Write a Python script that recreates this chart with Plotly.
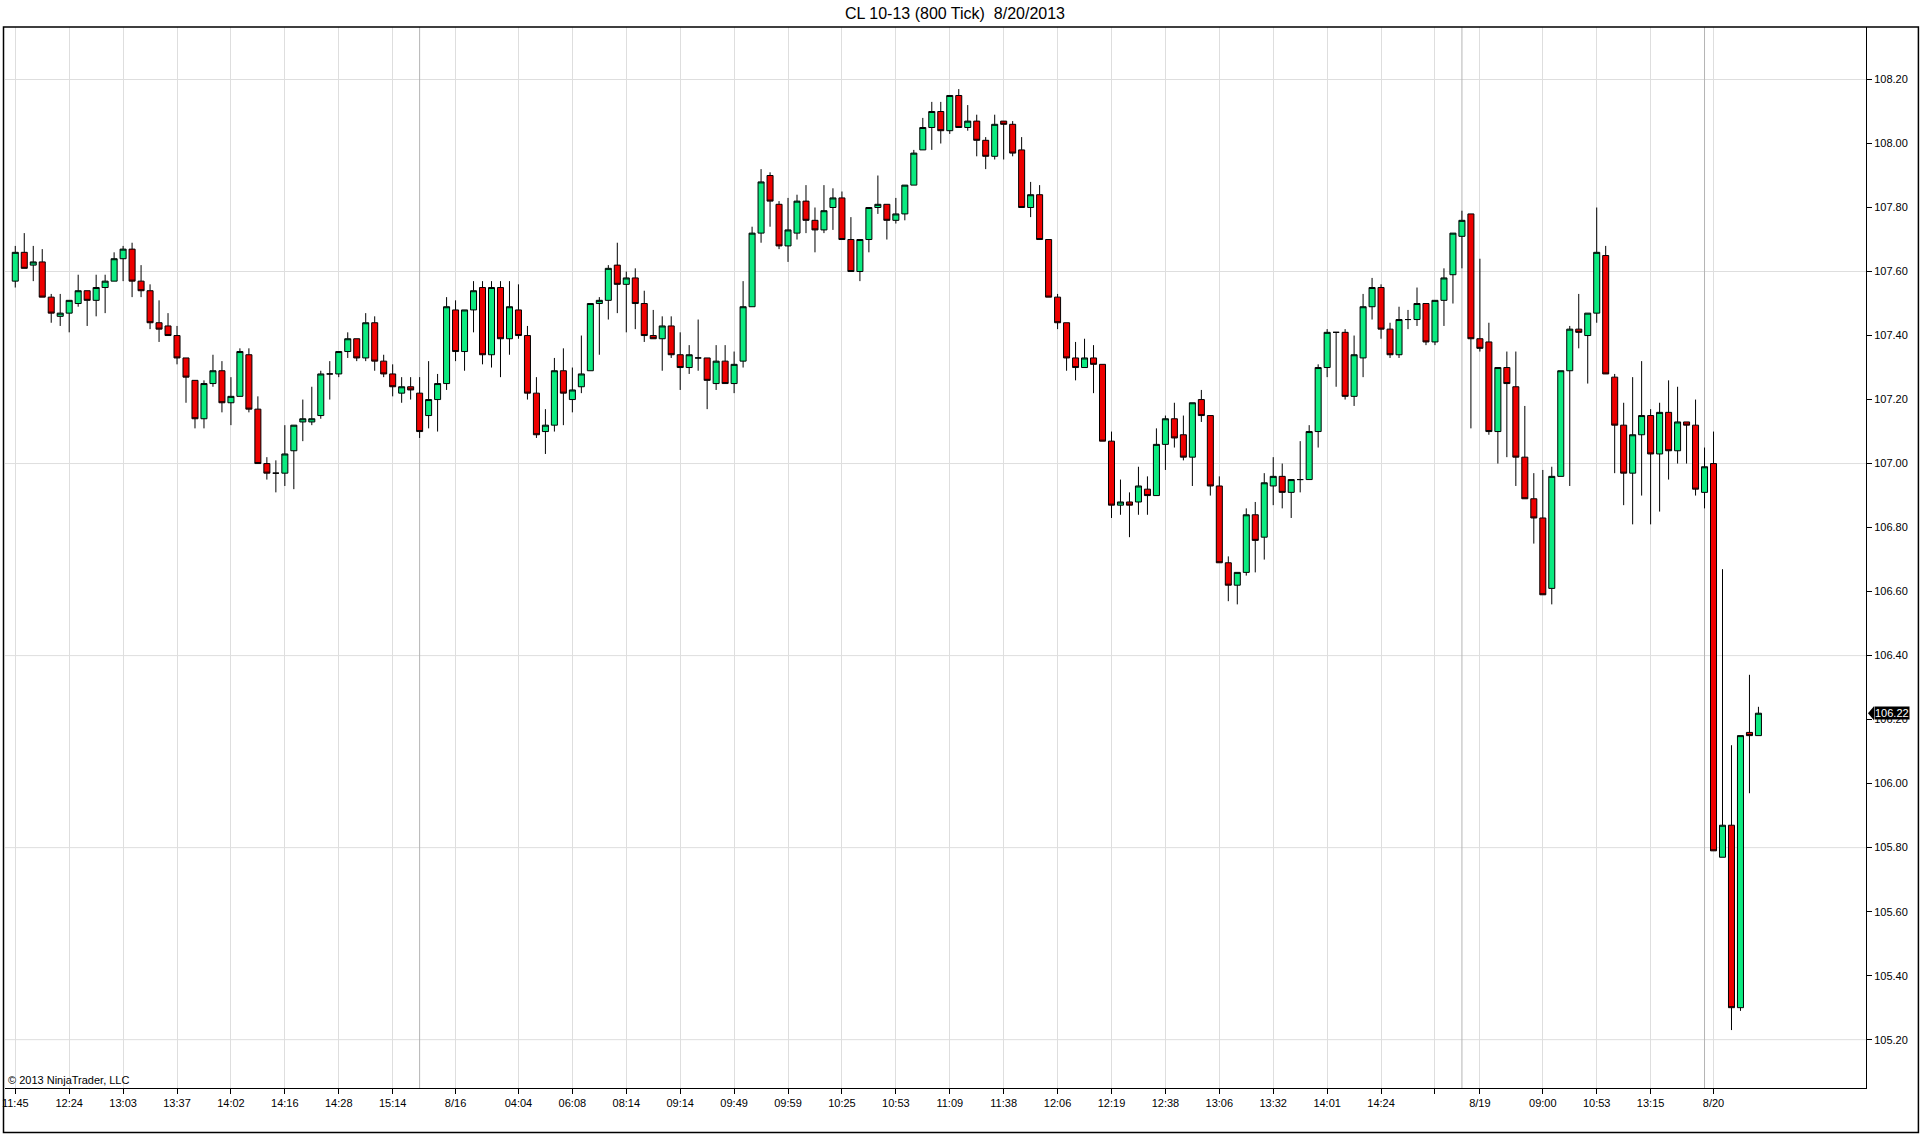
import plotly.graph_objects as go

TITLE = "CL 10-13 (800 Tick)  8/20/2013"
COPYRIGHT = "© 2013 NinjaTrader, LLC"

OPEN = [
    107.57, 107.66, 107.62, 107.63, 107.52, 107.46, 107.47, 107.50, 107.54, 107.51,
    107.55, 107.57, 107.64, 107.67, 107.57, 107.54, 107.44, 107.43, 107.40, 107.33,
    107.26, 107.14, 107.25, 107.29, 107.19, 107.21, 107.34, 107.17, 107.00, 106.97,
    106.97, 107.04, 107.13, 107.13, 107.15, 107.28, 107.28, 107.35, 107.39, 107.33,
    107.44, 107.32, 107.28, 107.22, 107.24, 107.22, 107.15, 107.20, 107.25, 107.48,
    107.35, 107.48, 107.55, 107.34, 107.55, 107.39, 107.48, 107.40, 107.22, 107.10,
    107.12, 107.29, 107.20, 107.24, 107.29, 107.50, 107.51, 107.62, 107.56, 107.58,
    107.50, 107.40, 107.39, 107.43, 107.34, 107.30, 107.33, 107.33, 107.25, 107.32,
    107.25, 107.32, 107.49, 107.72, 107.90, 107.81, 107.68, 107.72, 107.82, 107.76,
    107.73, 107.80, 107.83, 107.70, 107.60, 107.70, 107.80, 107.81, 107.76, 107.78,
    107.87, 107.98, 108.05, 108.10, 108.04, 108.15, 108.05, 108.07, 108.01, 107.96,
    108.07, 108.06, 107.98, 107.80, 107.84, 107.70, 107.52, 107.44, 107.33, 107.30,
    107.33, 107.31, 107.07, 106.87, 106.88, 106.88, 106.92, 106.90, 107.06, 107.14,
    107.09, 107.02, 107.20, 107.15, 106.93, 106.69, 106.62, 106.66, 106.84, 106.77,
    106.93, 106.96, 106.91, 106.95, 106.95, 107.10, 107.30, 107.41, 107.41, 107.21,
    107.33, 107.49, 107.55, 107.42, 107.34, 107.45, 107.45, 107.50, 107.38, 107.51,
    107.59, 107.71, 107.78, 107.39, 107.38, 107.10, 107.30, 107.24, 107.02, 106.89,
    106.83, 106.61, 106.96, 107.29, 107.42, 107.40, 107.47, 107.65, 107.27, 107.12,
    106.97, 107.09, 107.15, 107.03, 107.16, 107.04, 107.13, 107.12, 106.91, 107.00,
    105.77, 105.87, 105.30, 106.16, 106.15,
]
HIGH = [
    107.68, 107.72, 107.68, 107.67, 107.53, 107.53, 107.51, 107.59, 107.54, 107.59,
    107.59, 107.66, 107.68, 107.69, 107.62, 107.56, 107.51, 107.47, 107.43, 107.33,
    107.26, 107.26, 107.34, 107.32, 107.27, 107.36, 107.36, 107.21, 107.02, 107.01,
    107.12, 107.12, 107.20, 107.24, 107.29, 107.32, 107.35, 107.41, 107.39, 107.47,
    107.46, 107.34, 107.31, 107.27, 107.27, 107.27, 107.32, 107.28, 107.52, 107.51,
    107.48, 107.57, 107.57, 107.57, 107.57, 107.57, 107.56, 107.43, 107.27, 107.17,
    107.33, 107.36, 107.30, 107.40, 107.50, 107.52, 107.62, 107.69, 107.60, 107.61,
    107.54, 107.48, 107.46, 107.46, 107.41, 107.37, 107.45, 107.33, 107.37, 107.37,
    107.35, 107.57, 107.74, 107.92, 107.91, 107.82, 107.83, 107.84, 107.87, 107.80,
    107.87, 107.86, 107.85, 107.77, 107.70, 107.80, 107.90, 107.81, 107.83, 107.87,
    107.98, 108.08, 108.13, 108.13, 108.15, 108.17, 108.12, 108.09, 108.02, 108.09,
    108.07, 108.07, 108.02, 107.88, 107.87, 107.70, 107.53, 107.44, 107.38, 107.39,
    107.37, 107.31, 107.10, 106.95, 106.91, 106.99, 106.96, 107.11, 107.15, 107.19,
    107.15, 107.19, 107.23, 107.15, 106.96, 106.71, 106.66, 106.86, 106.88, 106.97,
    107.02, 107.00, 106.95, 107.07, 107.12, 107.31, 107.42, 107.41, 107.42, 107.40,
    107.53, 107.58, 107.56, 107.44, 107.49, 107.48, 107.55, 107.50, 107.51, 107.61,
    107.72, 107.79, 107.78, 107.64, 107.44, 107.30, 107.35, 107.35, 107.18, 106.97,
    106.98, 106.99, 107.29, 107.43, 107.53, 107.47, 107.80, 107.68, 107.28, 107.19,
    107.27, 107.32, 107.17, 107.19, 107.26, 107.24, 107.13, 107.20, 107.05, 107.10,
    106.67, 106.12, 106.15, 106.34, 106.24,
]
LOW = [
    107.55, 107.61, 107.57, 107.52, 107.44, 107.43, 107.41, 107.49, 107.43, 107.46,
    107.47, 107.57, 107.57, 107.52, 107.52, 107.42, 107.38, 107.40, 107.31, 107.19,
    107.11, 107.11, 107.24, 107.16, 107.12, 107.21, 107.16, 107.00, 106.95, 106.91,
    106.93, 106.92, 107.07, 107.12, 107.14, 107.20, 107.27, 107.33, 107.32, 107.32,
    107.29, 107.27, 107.21, 107.19, 107.20, 107.08, 107.11, 107.10, 107.23, 107.32,
    107.29, 107.41, 107.31, 107.30, 107.27, 107.34, 107.39, 107.20, 107.08, 107.03,
    107.10, 107.12, 107.16, 107.22, 107.29, 107.34, 107.45, 107.47, 107.41, 107.42,
    107.38, 107.39, 107.29, 107.33, 107.23, 107.28, 107.29, 107.17, 107.23, 107.25,
    107.22, 107.30, 107.49, 107.69, 107.74, 107.67, 107.63, 107.70, 107.72, 107.66,
    107.72, 107.73, 107.70, 107.60, 107.57, 107.66, 107.78, 107.70, 107.75, 107.76,
    107.87, 107.98, 107.98, 108.00, 108.03, 108.05, 108.04, 107.96, 107.92, 107.95,
    107.95, 107.96, 107.80, 107.77, 107.70, 107.52, 107.42, 107.29, 107.26, 107.30,
    107.22, 107.07, 106.83, 106.84, 106.77, 106.84, 106.84, 106.90, 106.98, 107.05,
    107.01, 106.93, 107.13, 106.90, 106.69, 106.57, 106.56, 106.65, 106.66, 106.70,
    106.87, 106.86, 106.83, 106.91, 106.95, 107.05, 107.27, 107.24, 107.20, 107.18,
    107.27, 107.45, 107.39, 107.33, 107.33, 107.42, 107.43, 107.37, 107.37, 107.43,
    107.50, 107.61, 107.11, 107.35, 107.09, 107.00, 107.02, 106.93, 106.89, 106.75,
    106.59, 106.56, 106.96, 106.93, 107.36, 107.25, 107.44, 107.28, 106.97, 106.87,
    106.81, 106.90, 106.81, 106.85, 106.95, 107.00, 107.00, 106.90, 106.86, 105.79,
    105.77, 105.23, 105.29, 105.97, 106.15,
]
CLOSE = [
    107.66, 107.61, 107.63, 107.52, 107.47, 107.47, 107.51, 107.54, 107.51, 107.55,
    107.57, 107.64, 107.67, 107.57, 107.54, 107.44, 107.42, 107.40, 107.33, 107.27,
    107.14, 107.25, 107.29, 107.19, 107.21, 107.35, 107.17, 107.00, 106.97, 106.97,
    107.03, 107.12, 107.14, 107.14, 107.28, 107.28, 107.35, 107.39, 107.33, 107.44,
    107.32, 107.28, 107.24, 107.24, 107.23, 107.10, 107.20, 107.25, 107.49, 107.35,
    107.48, 107.54, 107.34, 107.55, 107.39, 107.49, 107.40, 107.22, 107.09, 107.12,
    107.29, 107.22, 107.23, 107.28, 107.50, 107.51, 107.61, 107.56, 107.58, 107.50,
    107.40, 107.39, 107.43, 107.34, 107.30, 107.34, 107.33, 107.26, 107.32, 107.25,
    107.31, 107.49, 107.72, 107.88, 107.82, 107.68, 107.73, 107.82, 107.76, 107.73,
    107.79, 107.83, 107.70, 107.60, 107.70, 107.80, 107.81, 107.76, 107.78, 107.87,
    107.97, 108.05, 108.10, 108.04, 108.15, 108.05, 108.07, 108.01, 107.96, 108.06,
    108.06, 107.97, 107.80, 107.84, 107.70, 107.52, 107.44, 107.33, 107.30, 107.33,
    107.31, 107.07, 106.87, 106.88, 106.87, 106.93, 106.90, 107.06, 107.14, 107.08,
    107.02, 107.19, 107.15, 106.93, 106.69, 106.62, 106.66, 106.84, 106.76, 106.94,
    106.96, 106.91, 106.95, 106.95, 107.10, 107.30, 107.41, 107.41, 107.21, 107.34,
    107.49, 107.55, 107.42, 107.34, 107.45, 107.45, 107.50, 107.38, 107.51, 107.58,
    107.72, 107.76, 107.39, 107.36, 107.10, 107.30, 107.25, 107.02, 106.89, 106.83,
    106.59, 106.96, 107.29, 107.42, 107.41, 107.47, 107.66, 107.28, 107.12, 106.97,
    107.09, 107.15, 107.03, 107.16, 107.04, 107.13, 107.12, 106.92, 106.99, 105.79,
    105.87, 105.30, 106.15, 106.15, 106.22,
]
BAR_INDEX = list(range(len(OPEN)))

TICK_POS = [0, 6, 12, 18, 24, 30, 36, 42, 49, 56, 62, 68, 74, 80, 86, 92, 98, 104,
            110, 116, 122, 128, 134, 140, 146, 152, 158, 163, 170, 176, 182, 189]
TICK_TEXT = ["11:45", "12:24", "13:03", "13:37", "14:02", "14:16", "14:28", "15:14",
             "8/16", "04:04", "06:08", "08:14", "09:14", "09:49", "09:59", "10:25",
             "10:53", "11:09", "11:38", "12:06", "12:19", "12:38", "13:06", "13:32",
             "14:01", "14:24", "", "8/19", "09:00", "10:53", "13:15", "8/20"]
SESSION_BREAKS = [45, 161, 188]
GRID_LEVELS = [105.2, 105.8, 106.4, 107.0, 107.6, 108.2]
PRICE_TICK0 = 105.2
PRICE_DTICK = 0.2

X_RANGE = [-1.144, 205.97]
Y_RANGE = [105.049, 108.364]

W, H = 1920, 1134
M_L, M_R, M_T, M_B = 2, 54, 27, 46
PW = W - M_L - M_R
PH = H - M_T - M_B
Y_PER_PX = (Y_RANGE[1] - Y_RANGE[0]) / PH

UP = "#0BEA80"
DOWN = "#EE0000"
FONT = "Liberation Sans, Arial, sans-serif"

fig = go.Figure()
fig.add_trace(go.Candlestick(
    x=BAR_INDEX, open=OPEN, high=HIGH, low=LOW, close=CLOSE,
    increasing=dict(fillcolor=UP, line=dict(color="black", width=1)),
    decreasing=dict(fillcolor=DOWN, line=dict(color="black", width=1)),
    whiskerwidth=0, showlegend=False, hoverinfo="x+y",
))

shapes = []
for lvl in GRID_LEVELS:
    shapes.append(dict(type="line", xref="paper", yref="y", x0=0, x1=1, y0=lvl, y1=lvl,
                       line=dict(color="#DEDEDE", width=1), layer="below"))
for b in SESSION_BREAKS:
    shapes.append(dict(type="line", xref="x", yref="paper", x0=b, x1=b, y0=0, y1=1,
                       line=dict(color="#B4B4B4", width=1), layer="below"))
# outer frame
shapes.append(dict(type="rect", xref="paper", yref="paper",
                   x0=(0.5 - M_L) / PW, x1=(W - 1.5 - M_L) / PW,
                   y0=-(H - 1.5 - (M_T + PH)) / PH, y1=1,
                   line=dict(color="black", width=1.5), fillcolor="rgba(0,0,0,0)", layer="above"))
# last price marker arrow
last = CLOSE[-1]
tip = 1 + 2 / PW
base = 1 + 8 / PW
hh = 7 * Y_PER_PX
shapes.append(dict(type="path", xref="paper", yref="y",
                   path=f"M {tip},{last} L {base},{last + hh} L {base},{last - hh} Z",
                   fillcolor="black", line=dict(color="black", width=0), layer="above"))

annotations = [
    dict(text=COPYRIGHT, xref="paper", yref="paper", x=(3 - M_L) / PW, y=0,
         xanchor="left", yanchor="bottom", yshift=0, showarrow=False,
         font=dict(family=FONT, size=11, color="black")),
    dict(text=f"{last:.2f}", xref="paper", yref="y", x=base, y=last,
         xanchor="left", yanchor="middle", showarrow=False, bgcolor="black",
         borderpad=0, font=dict(family=FONT, size=11, color="white")),
]

fig.update_layout(
    width=W, height=H,
    margin=dict(l=M_L, r=M_R, t=M_T, b=M_B, pad=0),
    paper_bgcolor="white", plot_bgcolor="white",
    boxgap=0.33, boxgroupgap=0,
    title=dict(text=TITLE, x=955 / W, xanchor="center", y=1 - 13.5 / H, yanchor="middle",
               xref="container", yref="container",
               font=dict(family=FONT, size=16, color="black")),
    font=dict(family=FONT, size=11, color="black"),
    shapes=shapes, annotations=annotations,
    showlegend=False,
    xaxis=dict(range=X_RANGE, tickmode="array", tickvals=TICK_POS, ticktext=TICK_TEXT,
               showgrid=True, gridcolor="#DEDEDE", gridwidth=1, zeroline=False,
               showline=True, linecolor="black", linewidth=1,
               ticks="outside", ticklen=5, tickcolor="black", tickwidth=1,
               ticklabeloverflow="allow", rangeslider=dict(visible=False),
               tickfont=dict(family=FONT, size=11, color="black"), fixedrange=True),
    yaxis=dict(range=Y_RANGE, side="right", tick0=PRICE_TICK0, dtick=PRICE_DTICK,
               tickformat=".2f", showgrid=False, zeroline=False,
               showline=True, linecolor="black", linewidth=1,
               ticks="outside", ticklen=5, tickcolor="black", tickwidth=1,
               tickfont=dict(family=FONT, size=11, color="black"), fixedrange=True),
)

fig.write_html("out.html", config={"displayModeBar": False},
               post_script="document.body.style.margin='0';document.body.style.overflow='hidden';")
